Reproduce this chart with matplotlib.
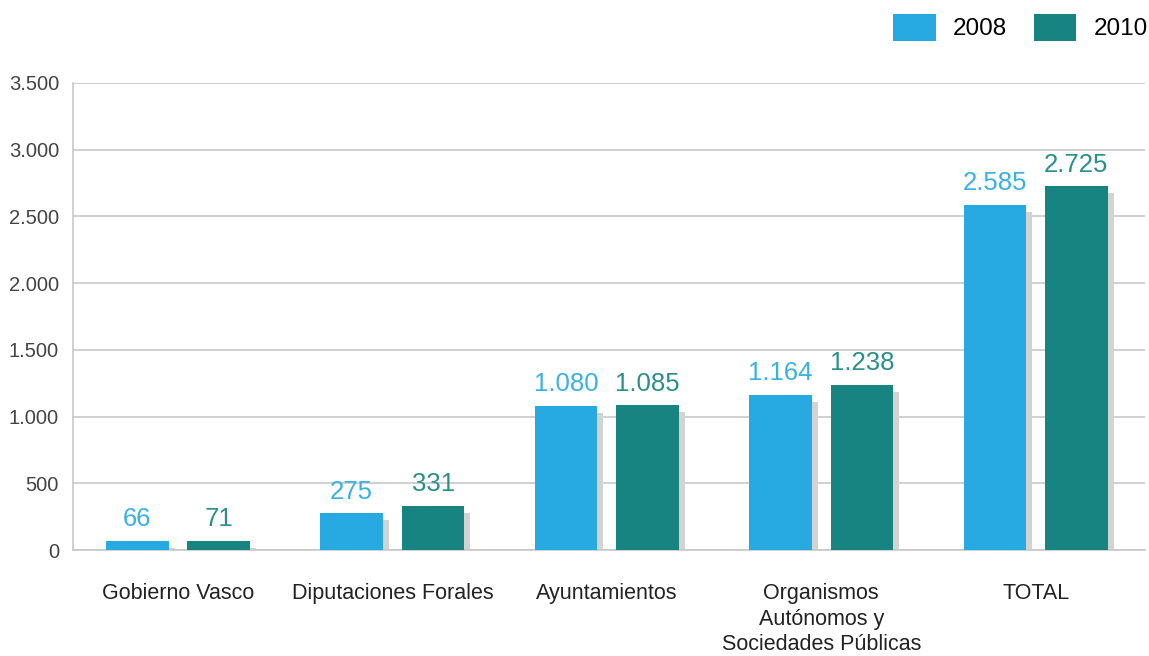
import numpy as np
import matplotlib
matplotlib.use("Agg")
import matplotlib.pyplot as plt
from matplotlib.transforms import offset_copy
from matplotlib.ticker import FuncFormatter

categories = ["Gobierno Vasco", "Diputaciones Forales", "Ayuntamientos",
              "Organismos\nAutónomos y\nSociedades Públicas", "TOTAL"]
years = ["2008", "2010"]
vals_2008 = [66, 275, 1080, 1164, 2585]
vals_2010 = [71, 331, 1085, 1238, 2725]

blue = "#27A9E1"
teal = "#178481"
blue_txt = "#3AB1E4"
teal_txt = "#2A8F8B"
shadow = "#D3D3D3"
grid_c = "#C8C8C8"

plt.rcParams['font.family'] = ['Liberation Sans', 'DejaVu Sans']

fig = plt.figure(figsize=(11.49, 6.56), dpi=100)
ax = fig.add_axes([73/1149, 106/656, 1072/1149, 467/656])

x = np.arange(len(categories))
w = 0.292
off = 0.19

def fmt(v):
    return f"{int(v):,}".replace(",", ".")

# shadow bars, shifted right and down in pixels
sh_tr = offset_copy(ax.transData, fig=fig, x=6, y=-7, units='dots')
for xs, vals in [(x - off, vals_2008), (x + off, vals_2010)]:
    bars = ax.bar(xs, vals, w, color=shadow, zorder=2)
    for b in bars:
        b.set_transform(sh_tr)

b1 = ax.bar(x - off, vals_2008, w, color=blue, zorder=3, label=years[0])
b2 = ax.bar(x + off, vals_2010, w, color=teal, zorder=3, label=years[1])

for bars, vals, c in [(b1, vals_2008, blue_txt), (b2, vals_2010, teal_txt)]:
    for b, v in zip(bars, vals):
        ax.annotate(fmt(v), (b.get_x() + b.get_width()/2, v),
                    xytext=(0, 7), textcoords='offset points',
                    ha='center', va='bottom', fontsize=18.5, color=c, zorder=4)

ax.set_xlim(-0.49, 4.51)
ax.set_ylim(0, 3500)
ax.set_yticks(np.arange(0, 3501, 500))
ax.yaxis.set_major_formatter(FuncFormatter(lambda v, p: fmt(v)))
ax.set_xticks(x)
ax.set_xticklabels(categories, fontsize=15.5, color="#222222", linespacing=1.28)
ax.tick_params(axis='x', length=0, pad=24)
ax.tick_params(axis='y', length=0, pad=10, labelsize=14.5, labelcolor="#444444")

ax.grid(axis='y', color=grid_c, linewidth=1.2, zorder=0)
ax.set_axisbelow(True)
for s in ['top', 'right']:
    ax.spines[s].set_visible(False)
for s in ['left', 'bottom']:
    ax.spines[s].set_color(grid_c)
    ax.spines[s].set_linewidth(1.2)

fig.legend(handles=[b1, b2], labels=years, loc='upper right',
           bbox_to_anchor=(1.003, 0.986), ncol=2, frameon=False, fontsize=17.5,
           handlelength=1.75, handleheight=1.3, handletextpad=0.7,
           columnspacing=1.1, borderaxespad=0.0, borderpad=0.2)

fig.savefig("out.png", dpi=100)
